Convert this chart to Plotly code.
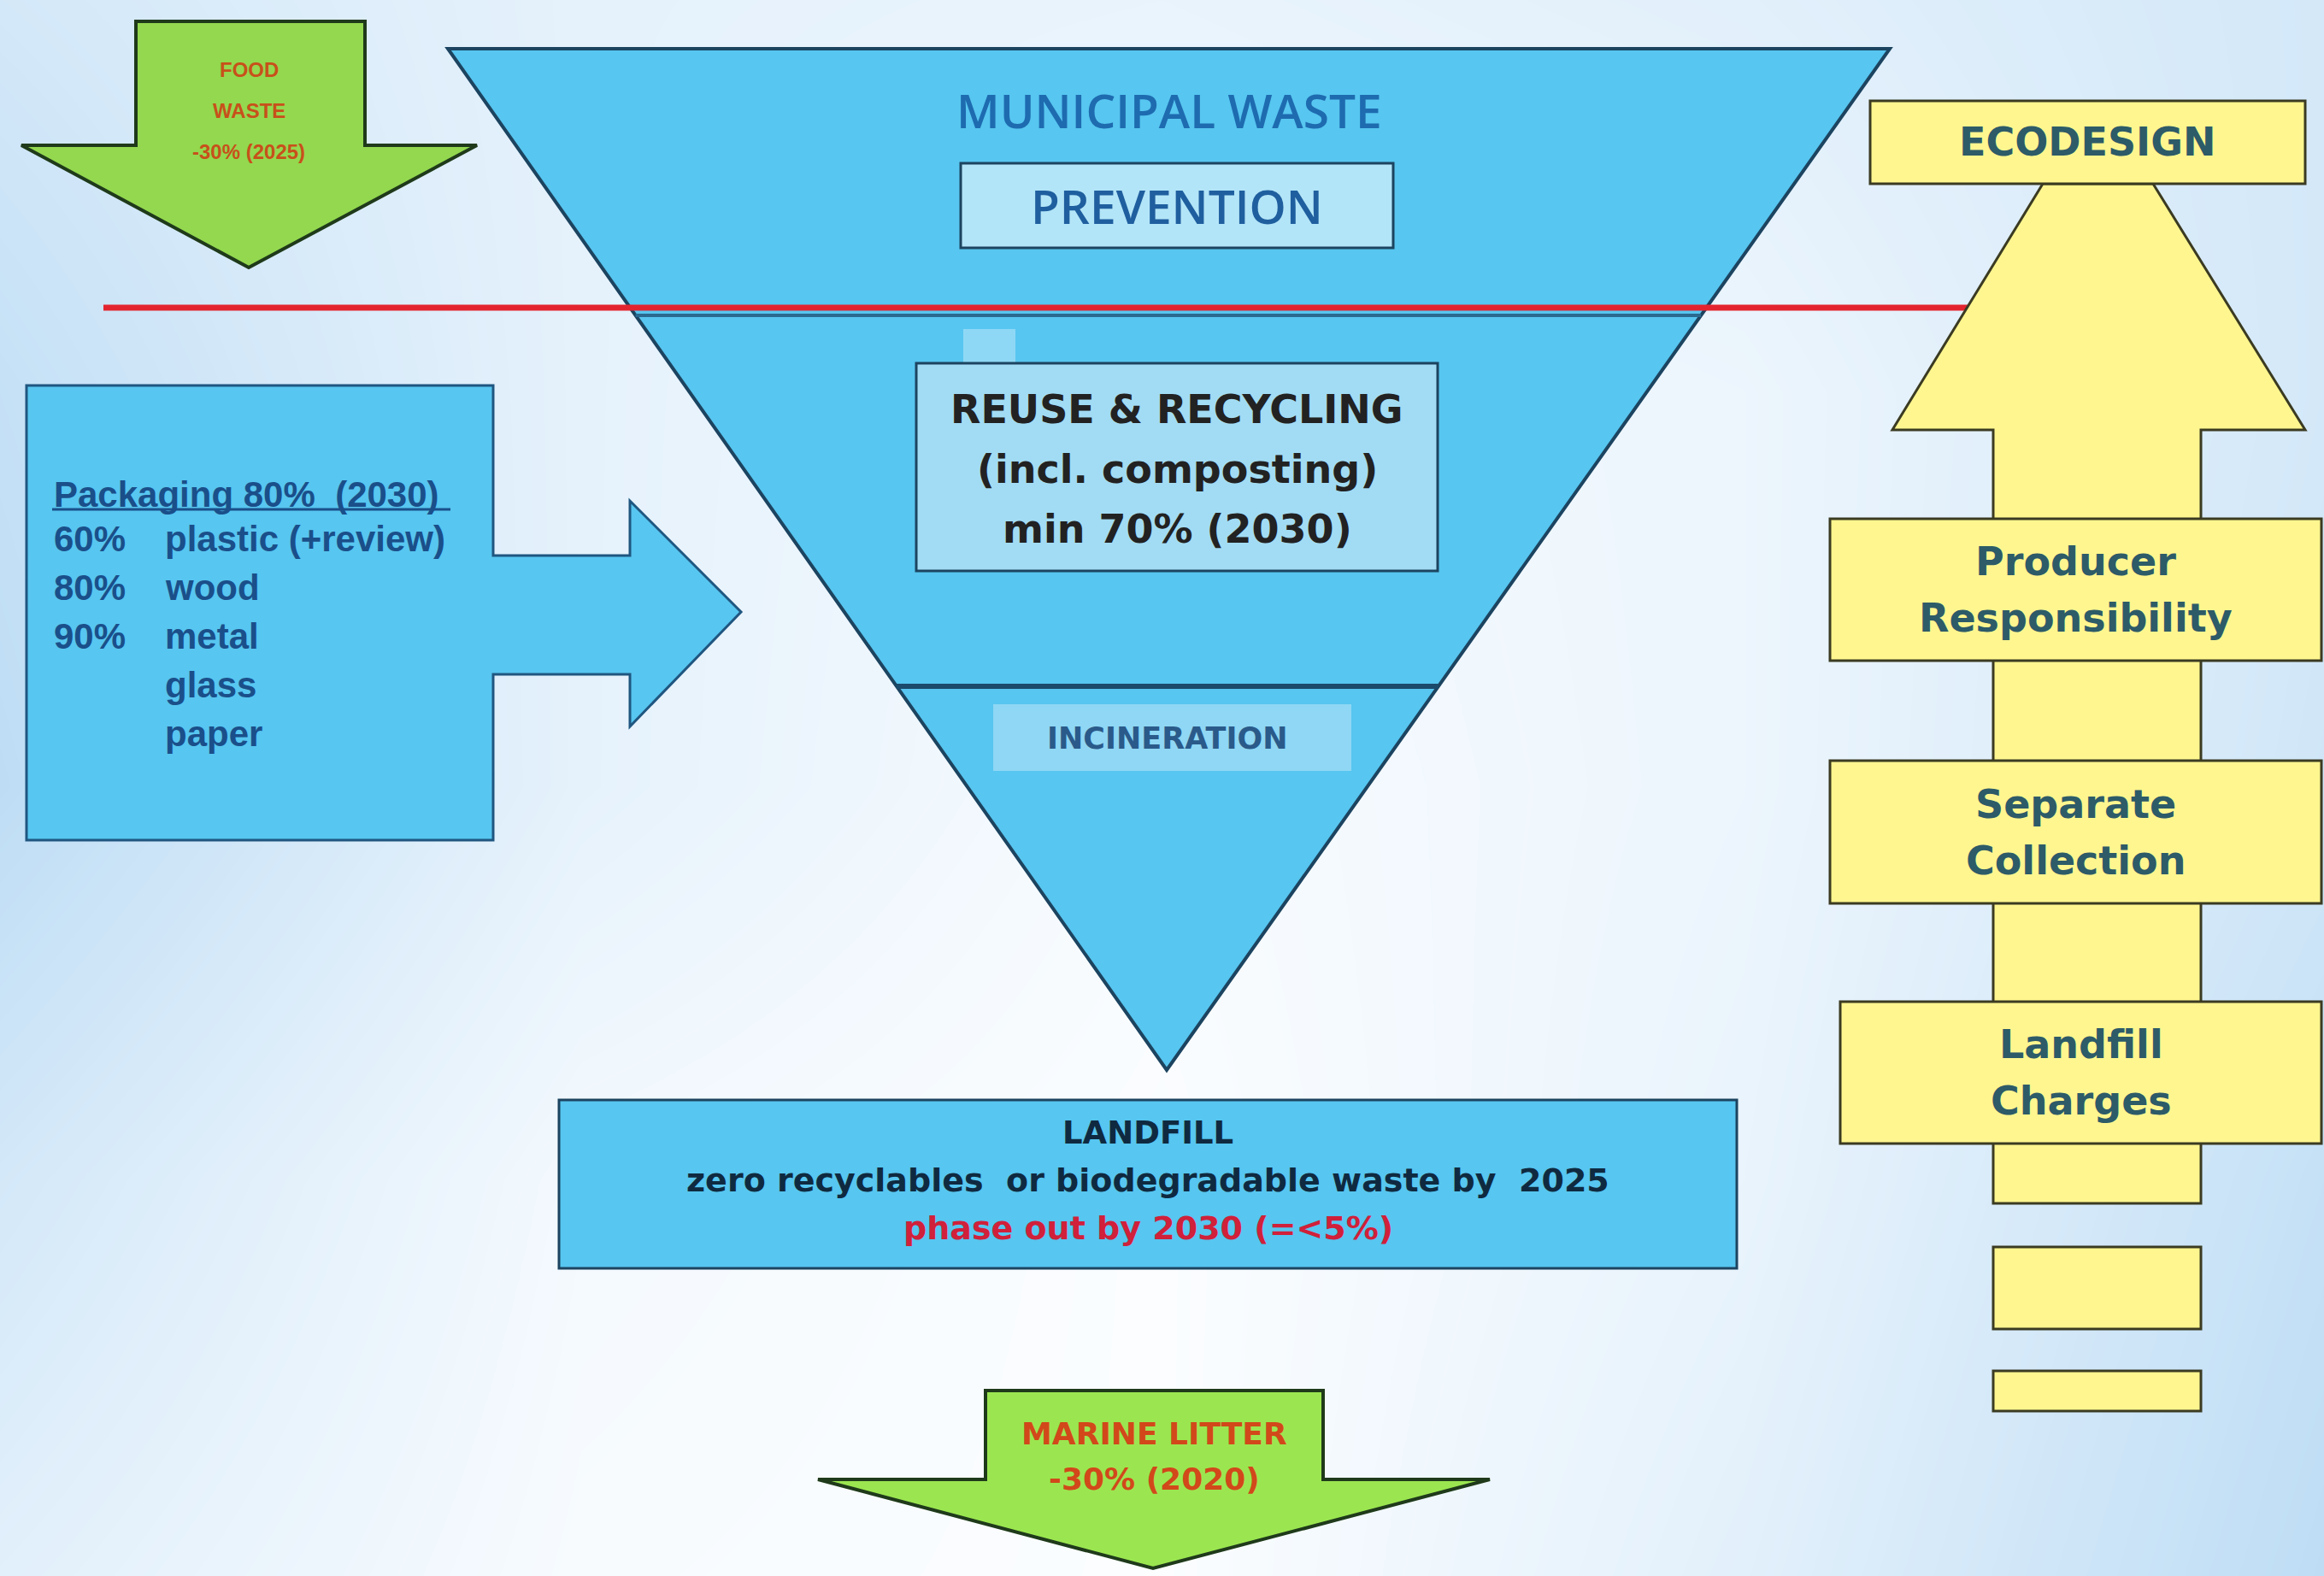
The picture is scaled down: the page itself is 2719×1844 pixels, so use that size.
import plotly.graph_objects as go

W, H = 2719, 1844

# ---------------- content (text) ----------------
funnel_title = "MUNICIPAL WASTE"
prevention_label = "PREVENTION"
reuse_lines = ["REUSE &amp; RECYCLING", "(incl. composting)", "min 70% (2030)"]
incineration_label = "INCINERATION"
landfill_lines = ["LANDFILL", "zero recyclables  or biodegradable waste by  2025", "phase out by 2030 (=&lt;5%)"]
food_lines = ["FOOD", "WASTE", "-30% (2025)"]
marine_lines = ["MARINE LITTER", "-30% (2020)"]
packaging_title = "Packaging 80%  (2030)"
packaging_pct = ["60%", "80%", "90%", "", ""]
packaging_mat = ["plastic (+review)", "wood", "metal", "glass", "paper"]
right_labels = ["ECODESIGN", "Producer<br>Responsibility", "Separate<br>Collection", "Landfill<br>Charges"]

# ---------------- geometry (pixel layout of the diagram) ----------------
funnel_pts = [(524, 57), (2211, 57), (1365, 1252)]
upper_split_y = 369
lower_split_y = 803
red_line = [(121, 360), (2306, 360)]
prevention_box = (1124, 191, 1630, 290)
reuse_box = (1072, 425, 1682, 668)
small_sq = (1127, 385, 1188, 424)
incin_box = (1162, 824, 1581, 902)
landfill_box = (654, 1287, 2032, 1484)
pack_poly = [(31, 451), (577, 451), (577, 650), (737, 650), (737, 586), (867, 716),
             (737, 850), (737, 789), (577, 789), (577, 983), (31, 983)]
food_arrow = [(159, 25), (427, 25), (427, 170), (558, 170), (291, 313), (25, 170), (159, 170)]
marine_arrow = [(1153, 1627), (1548, 1627), (1548, 1731), (1743, 1731), (1349, 1835), (957, 1731), (1153, 1731)]
up_arrow = [(2390, 215), (2519, 215), (2697, 503), (2575, 503), (2575, 1408), (2332, 1408), (2332, 503), (2214, 503)]
right_boxes = [(2188, 118, 2697, 215), (2141, 607, 2716, 773), (2141, 890, 2716, 1057), (2153, 1172, 2716, 1338)]
tail_rects = [(2332, 1459, 2575, 1555), (2332, 1604, 2575, 1651)]

# background wash (blueness levels)
bg_x = [0, 680, 1360, 2040, 2719]
bg_y = [0, 460, 920, 1380, 1844]
bg_z = [[0.55, 0.30, 0.25, 0.35, 0.55],
        [0.75, 0.30, 0.10, 0.20, 0.55],
        [0.85, 0.30, 0.05, 0.20, 0.60],
        [0.55, 0.10, 0.00, 0.25, 0.75],
        [0.35, 0.05, 0.00, 0.35, 0.85]]

BLUE = "#57c6f0"
NAVY = "#1c4460"
YELLOW = "#fff68f"
OLIVE = "#3b3b22"
GREEN = "#93d84f"
TEAL = "#2d5b68"


def xl(y):
    (x0, y0), _, (x2, y2) = funnel_pts
    return x0 + (x2 - x0) * (y - y0) / (y2 - y0)


def xr(y):
    _, (x1, y1), (x2, y2) = funnel_pts
    return x1 + (x2 - x1) * (y - y1) / (y2 - y1)


def path(pts):
    return "M " + " L ".join(f"{x},{y}" for x, y in pts) + " Z"


fig = go.Figure()
fig.add_trace(go.Heatmap(x=bg_x, y=bg_y, z=bg_z, zsmooth="best", showscale=False,
                         colorscale=[[0, "#fbfdff"], [1, "#b3d7f3"]], zmin=0, zmax=1,
                         hoverinfo="skip"))

shapes = []


def poly(pts, fill, line, width):
    shapes.append(dict(type="path", path=path(pts), fillcolor=fill,
                       line=dict(color=line, width=width), xref="x", yref="y"))


def rect(b, fill, line, width):
    shapes.append(dict(type="rect", x0=b[0], y0=b[1], x1=b[2], y1=b[3], fillcolor=fill,
                       line=dict(color=line, width=width), xref="x", yref="y"))


def seg(p0, p1, color, width):
    shapes.append(dict(type="line", x0=p0[0], y0=p0[1], x1=p1[0], y1=p1[1],
                       line=dict(color=color, width=width), xref="x", yref="y"))


# funnel
poly(funnel_pts, BLUE, NAVY, 4)
seg((xl(upper_split_y), upper_split_y), (xr(upper_split_y), upper_split_y), "#2a6a90", 4)
seg((xl(lower_split_y), lower_split_y), (xr(lower_split_y), lower_split_y), "#1b4a6b", 6)
rect(small_sq, "#8fd8f5", "rgba(0,0,0,0)", 0)
seg(*red_line, "#e3242f", 7)
rect(prevention_box, "#b3e5f8", NAVY, 3)
rect(reuse_box, "#a2dcf4", NAVY, 3)
rect(incin_box, "#8fd7f4", "rgba(0,0,0,0)", 0)

# left & bottom
poly(pack_poly, BLUE, "#1f5680", 3)
rect(landfill_box, BLUE, NAVY, 3)
poly(food_arrow, GREEN, "#1f3a1a", 4)
poly(marine_arrow, "#9be650", "#1f3a1a", 4)

# right column
poly(up_arrow, YELLOW, OLIVE, 3)
for b in right_boxes:
    rect(b, YELLOW, OLIVE, 3)
for b in tail_rects:
    rect(b, YELLOW, OLIVE, 3)

# underline for packaging title
seg((61, 596), (527, 596), "#1a4f8a", 3)

ann = []


def text(x, y, t, size, color, family="Open Sans", anchor="center", bold=False, weight=None):
    font = dict(size=size, color=color, family=family)
    if weight:
        font["weight"] = weight
    ann.append(dict(x=x, y=y, text=f"<b>{t}</b>" if bold else t, showarrow=False,
                    xanchor=anchor, yanchor="middle", xref="x", yref="y", font=font))


text(1368, 128, funnel_title, 55, "#1e6bb0", "Open Sans", weight=600)
text(1377, 240, prevention_label, 55, "#1f5f9f", "Open Sans", weight=600)
for i, t in enumerate(reuse_lines):
    text(1377, 479 + i * 70, t, 46, "#222222", "DejaVu Sans", bold=True)
text(1366, 864, incineration_label, 35, "#2a5a8a", "DejaVu Sans", bold=True)

text(1343, 1325, landfill_lines[0], 37, "#0f2a40", "DejaVu Sans", bold=True)
text(1343, 1381, landfill_lines[1], 38, "#0f2a40", "DejaVu Sans", bold=True)
text(1343, 1437, landfill_lines[2], 38, "#d0203a", "DejaVu Sans", bold=True)

for i, t in enumerate(food_lines):
    text(291, 81 + i * 48, t, 24, "#c8501a", "Liberation Sans", bold=True)
for i, t in enumerate(marine_lines):
    text(1350, 1677 + i * 53, t, 36, "#d2481a", "DejaVu Sans", bold=True)

PK = 42
text(61, 578, packaging_title, PK, "#1a4f8a", "Liberation Sans", anchor="left", bold=True)
for i, (p, m) in enumerate(zip(packaging_pct, packaging_mat)):
    y = 630 + i * 57
    if p:
        text(61, y, p, PK, "#1a4f8a", "Liberation Sans", anchor="left", bold=True)
    text(191, y, m, PK, "#1a4f8a", "Liberation Sans", anchor="left", bold=True)

text(2442, 166, right_labels[0], 46, TEAL, "DejaVu Sans", bold=True)
for (b, lab) in zip(right_boxes[1:], right_labels[1:]):
    l1, l2 = lab.split("<br>")
    cx = (b[0] + b[2]) / 2
    cy = (b[1] + b[3]) / 2
    text(cx, cy - 33, l1, 46, TEAL, "DejaVu Sans", bold=True)
    text(cx, cy + 33, l2, 46, TEAL, "DejaVu Sans", bold=True)

fig.update_layout(width=W, height=H, margin=dict(l=0, r=0, t=0, b=0),
                  paper_bgcolor="#eef6fc", plot_bgcolor="#eef6fc",
                  shapes=shapes, annotations=ann, showlegend=False,
                  xaxis=dict(range=[0, W], visible=False, fixedrange=True),
                  yaxis=dict(range=[H, 0], visible=False, fixedrange=True))
fig.write_html("out.html", config={"displayModeBar": False},
               post_script="document.body.style.margin='0';document.body.style.overflow='hidden';")
